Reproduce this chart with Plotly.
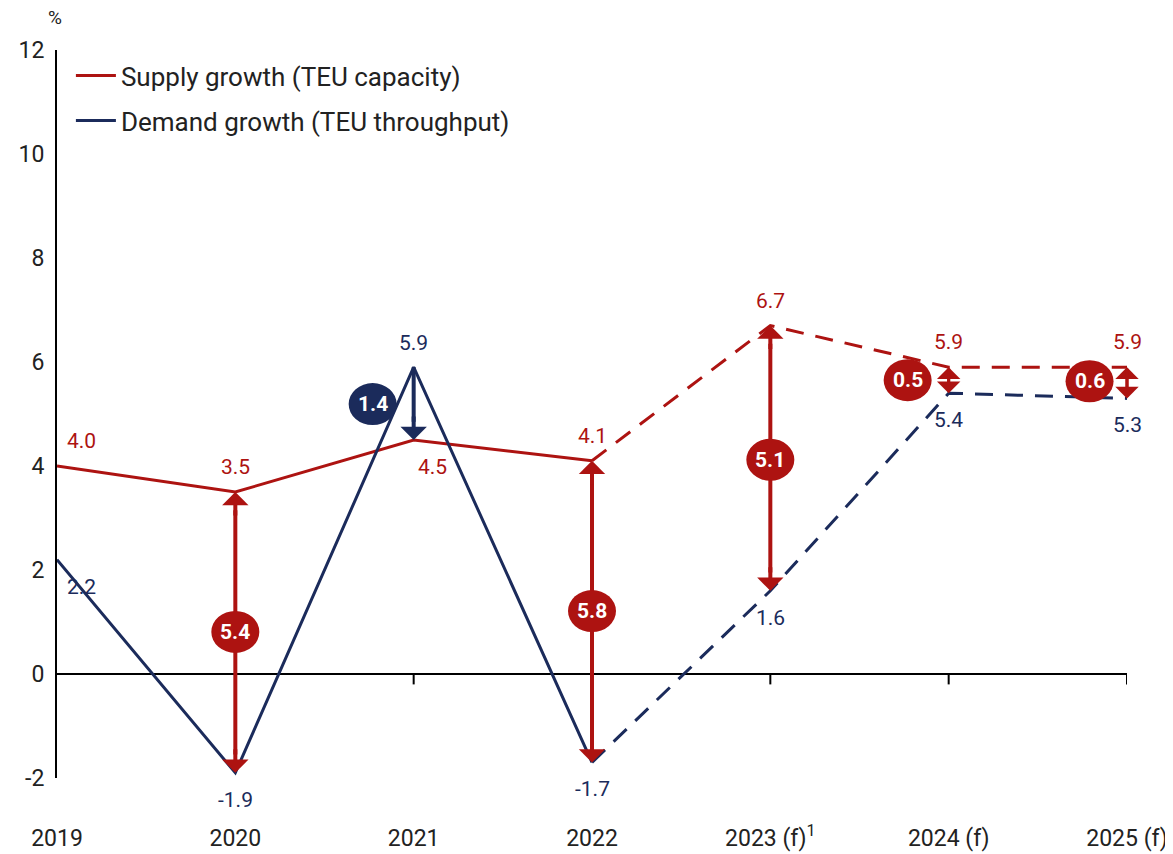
import plotly.graph_objects as go

# categories and values (growth, %)
years = ["2019", "2020", "2021", "2022", "2023 (f)<sup>1</sup>", "2024 (f)", "2025 (f)"]
supply = [4.0, 3.5, 4.5, 4.1, 6.7, 5.9, 5.9]
demand = [2.2, -1.9, 5.9, -1.7, 1.6, 5.4, 5.3]
y_ticks = [-2, 0, 2, 4, 6, 8, 10, 12]
last_actual = 3  # index of 2022, forecasts after that

RED = "#AD1311"
NAVY = "#1B2B5B"
FONT = "Roboto"

x = list(range(len(years)))

fig = go.Figure()

# solid actuals, dashed forecasts
fig.add_trace(go.Scatter(x=x[:last_actual + 1], y=supply[:last_actual + 1], mode="lines",
                         line=dict(color=RED, width=3), name="Supply growth (TEU capacity)",
                         legendgroup="s"))
fig.add_trace(go.Scatter(x=x[:last_actual + 1], y=demand[:last_actual + 1], mode="lines",
                         line=dict(color=NAVY, width=3), name="Demand growth (TEU throughput)",
                         legendgroup="d"))
fig.add_trace(go.Scatter(x=x[last_actual:], y=supply[last_actual:], mode="lines",
                         line=dict(color=RED, width=3, dash="18px,12px"), showlegend=False))
fig.add_trace(go.Scatter(x=x[last_actual:], y=demand[last_actual:], mode="lines",
                         line=dict(color=NAVY, width=3, dash="18px,12px"), showlegend=False))

shapes = []
annotations = []

# zero line and small ticks under it
shapes.append(dict(type="line", xref="x", yref="y", x0=x[0], x1=x[-1], y0=0, y1=0,
                   line=dict(color="black", width=2), layer="below"))
for i in x[1:]:
    shapes.append(dict(type="line", xref="x", yref="y", x0=i, x1=i, y0=0, y1=-0.2,
                       line=dict(color="black", width=2), layer="below"))

# value labels
sup_off = {0: (24, 25), 2: (19, -27)}
dem_off = {0: (24, -27), 2: (0, 24)}
for i in x:
    dx, dy = sup_off.get(i, (0, 25))
    annotations.append(dict(x=i, y=supply[i], text=f"{supply[i]:.1f}", showarrow=False,
                            xshift=dx, yshift=dy, font=dict(color=RED, size=21, family=FONT)))
    dx, dy = dem_off.get(i, (0, -27))
    annotations.append(dict(x=i, y=demand[i], text=f"{demand[i]:.1f}", showarrow=False,
                            xshift=dx, yshift=dy, font=dict(color=NAVY, size=21, family=FONT)))

# gap arrows and badges (badge offset in x units, badge y)
badges = {1: (0, 0.81), 2: (-0.23, 5.19), 3: (0, 1.21), 4: (0, 4.12), 5: (-0.23, 5.65), 6: (-0.21, 5.63)}
for i in x[1:]:
    hi, lo = max(supply[i], demand[i]), min(supply[i], demand[i])
    col = NAVY if demand[i] > supply[i] else RED
    both = demand[i] <= supply[i]
    gap = hi - lo
    if gap > 1:
        shapes.append(dict(type="line", xref="x", yref="y", x0=i, x1=i,
                           y0=lo + 0.35, y1=hi - 0.35 if both else hi,
                           line=dict(color=col, width=4)))
        annotations.append(dict(x=i, y=lo, ax=0, ay=-25, text="", showarrow=True, arrowhead=1,
                                arrowwidth=4, arrowsize=1.1, arrowcolor=col))
        if both:
            annotations.append(dict(x=i, y=hi, ax=0, ay=25, text="", showarrow=True, arrowhead=1,
                                    arrowwidth=4, arrowsize=1.1, arrowcolor=col))
    else:
        # short gaps: two overlapping heads
        for end, tail in ((hi, lo), (lo, hi)):
            annotations.append(dict(x=i, y=end, axref="x", ayref="y", ax=i, ay=tail, text="",
                                    showarrow=True, arrowhead=1, arrowwidth=3, arrowsize=1.3,
                                    arrowcolor=col))
    bx, by = badges[i]
    shapes.append(dict(type="circle", xref="x", yref="y", xsizemode="pixel", ysizemode="pixel",
                       xanchor=i + bx, yanchor=by, x0=-24, x1=24, y0=-21, y1=21,
                       fillcolor=col, line=dict(width=0)))
    annotations.append(dict(x=i + bx, y=by, text=f"<b>{gap:.1f}</b>", showarrow=False,
                            font=dict(color="white", size=21, family=FONT)))

annotations.append(dict(xref="paper", yref="paper", x=-0.002, y=1.045, xanchor="center",
                        yanchor="middle", text="%", showarrow=False,
                        font=dict(size=19, family=FONT, color="#222")))

# page body adds an 8px offset, so the figure is 16px smaller than the window
fig.update_layout(
    width=1165, height=846,
    margin=dict(l=49, r=46, t=42, b=76, autoexpand=False),
    plot_bgcolor="white", paper_bgcolor="white",
    font=dict(family=FONT, size=22, color="#222"),
    shapes=shapes, annotations=annotations,
    legend=dict(x=0.013, y=0.997, xanchor="left", yanchor="top", bgcolor="rgba(0,0,0,0)",
                font=dict(size=26, family=FONT, color="#222"), itemwidth=40,
                traceorder="grouped", tracegroupgap=8),
    xaxis=dict(range=[x[0], x[-1]], tickvals=x, ticktext=years, showgrid=False, zeroline=False,
               showline=False, ticks="", ticklabelstandoff=44, tickfont=dict(size=23),
               automargin=False),
    yaxis=dict(range=[-2, 12], tickvals=y_ticks, ticktext=[str(v) for v in y_ticks],
               showgrid=False, zeroline=False, showline=True, linecolor="black", linewidth=2,
               ticks="", ticklabelstandoff=6, tickfont=dict(size=23), automargin=False),
)

fig.write_html("out.html")
